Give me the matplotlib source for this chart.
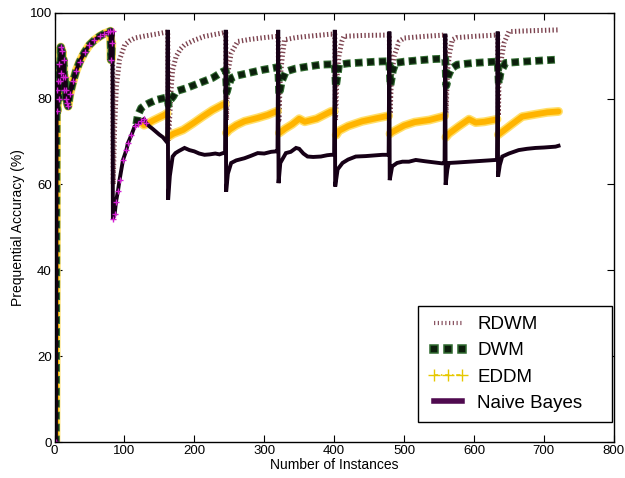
import numpy as np
import matplotlib
matplotlib.use("Agg")
import matplotlib.pyplot as plt
from matplotlib.lines import Line2D

plt.rcParams["font.family"] = ["Liberation Sans", "DejaVu Sans"]
plt.rcParams["lines.scale_dashes"] = False

nan = np.nan

# First concept (instances 0-82): all four learners coincide
warm_x = [0, 2, 3, 4, 5, 6, 7, 8, 9, 10, 11, 12, 13, 14, 15, 16, 17, 18, 19.5,
          22, 26.5, 31, 36, 43, 50, 57, 64.5, 71, 76.5, 80, 81, 82]
warm_y = [0, 0, 82, 77, 84, 80, 88, 84, 92, 86, 91, 85, 89, 82, 85, 80, 82, 79, 78.2,
          81, 84, 86.5, 88.6, 90.8, 92.5, 93.6, 94.5, 95.1, 95.4, 95.7, 89, 93]

# RDWM after the first drift
rdwm_x = [83, 84, 86, 88.5, 93, 100.4, 107, 115, 130, 145, 157.5, 161,
          162, 163, 167, 169, 174, 180, 186, 200, 215, 241, 244,
          245, 246, 248, 252.7, 262, 280, 300, 319,
          320, 321, 323, 326, 329, 345, 362, 395, 400,
          401, 402, 404, 407, 411, 414, 440, 478,
          479, 480, 482, 486, 493, 500, 530, 558,
          559, 560, 562, 565, 569, 575, 600, 633,
          634, 635, 636, 640, 643, 650, 680, 721]
rdwm_y = [95.7, 60, 73.5, 82.8, 89, 92.5, 93.4, 94.1, 94.6, 95.0, 95.4, 95.5,
          95.5, 70, 82.8, 86.7, 89.8, 91.5, 92.5, 93.6, 94.5, 95.3, 95.4,
          95.4, 75, 86, 90.6, 93.3, 93.8, 94.2, 94.5,
          94.5, 75, 85, 90, 93.7, 94.2, 94.5, 95.0, 95.0,
          95.0, 75, 85, 90, 93.3, 94.5, 94.7, 94.8,
          94.8, 76, 85, 90, 93.3, 94.1, 94.5, 94.8,
          94.8, 76, 86, 90.5, 93.7, 94.2, 94.5, 94.8,
          94.8, 76, 85.5, 90, 92.9, 95.6, 95.8, 96.0]

# DWM after the first drift
dwm_x = [83, 117, 119, 124, 130, 136, 146, 161,
         162, 163, 165, 170, 174, 188, 207, 226, 241, 244,
         245, 246.5, 249, 253, 260, 279, 298, 319,
         320, 321.5, 325, 331, 345, 360, 381, 400,
         401, 402.5, 405, 407, 420, 440, 460, 478,
         479, 480.5, 484, 488, 500, 520, 543, 558,
         559, 560.5, 563, 568, 576, 600, 631, 633,
         634, 635.5, 638, 645, 670, 700, 721]
dwm_y = [nan, 74, 76, 77.8, 78.5, 79, 79.7, 80.3,
         80.3, 78.5, 79.5, 80.5, 81.7, 82.4, 83.6, 84.8, 86.3, 86.5,
         86.5, 81.5, 83, 84.8, 85.3, 86, 86.7, 87.3,
         87.3, 80.9, 84, 86.3, 87.0, 87.4, 87.9, 88.0,
         88.0, 82.8, 85.5, 87.9, 88.2, 88.4, 88.6, 88.7,
         88.7, 83, 86.5, 88.3, 88.6, 88.9, 89.2, 89.3,
         89.3, 83, 85.2, 87, 87.9, 88.3, 88.6, 88.6,
         88.6, 83.5, 86, 88.3, 88.6, 88.9, 89.1]

# EDDM after the first drift
eddm_x = [83, 124, 128, 135, 140, 150, 157.5, 161,
          162, 164, 170, 184, 198, 212, 226, 241, 244,
          245, 246, 250, 260, 271.7, 290.7, 305, 317, 319,
          320, 321.7, 330, 340, 350, 358, 375, 395.5, 400,
          401, 403, 407, 420, 440, 460, 478,
          479, 480, 483, 500, 515, 536, 555, 558,
          559, 560, 564, 578, 593, 602.5, 615, 631, 633,
          634, 635, 640.5, 655, 669, 690, 705, 721]
eddm_y = [nan, 74.5, 73.8, 74.3, 74.8, 75.6, 76.2, 76.6,
          nan, 71.2, 71.8, 72.7, 74.2, 75.8, 77.3, 78.6, 78.8,
          nan, 72.0, 72.7, 73.8, 74.7, 75.5, 76.2, 77.0, 77.1,
          nan, 72.0, 73.0, 74.0, 75.3, 74.6, 75.3, 77.0, 77.1,
          nan, 71.5, 72.5, 73.6, 74.7, 75.4, 76.0,
          nan, 71.8, 72.2, 73.7, 74.5, 75.0, 75.8, 76.0,
          nan, 71.0, 71.8, 73.5, 75.2, 74.4, 74.6, 75.1, 75.2,
          nan, 71.6, 72.3, 74.1, 75.8, 76.4, 76.8, 77.0]

# Naive Bayes after the first drift
nb_x = [83, 83.5, 86, 88, 90.8, 93, 98, 102.8, 105, 110, 114.6, 119, 124, 128,
        131, 136, 140, 145, 150, 155, 160, 161,
        162, 162.5, 165, 169, 173, 178, 186, 193, 200, 207, 214.6, 222, 230, 236, 241, 244,
        245, 245.5, 248, 252.7, 260, 271.7, 280, 290.7, 300, 310, 317, 319,
        320, 320.5, 323, 331, 338, 345.5, 350, 356, 362, 370, 381, 390, 395.5, 400,
        401, 401.5, 405, 412, 420, 431, 445, 460, 469, 478,
        479, 479.5, 483, 490, 497.7, 507, 516.8, 530, 545, 554.8, 558,
        559, 559.5, 562, 564, 575, 593, 610, 631, 633,
        634, 634.5, 637, 640.5, 650, 664, 676, 688, 700, 716.7, 721]
nb_y = [95.7, 52, 53, 56, 58.5, 61, 65.7, 68, 69.6, 71.5, 73.5, 74, 74.8, 75.2,
        74.3, 73.5, 73, 72.3, 71.6, 71.0, 70.0, 69.8,
        96, 56.4, 62, 66.5, 67.3, 67.8, 68.5, 68.0, 67.7, 67.2, 66.9, 67.0, 67.2, 67.0, 67.3, 67.3,
        96, 58.3, 62.5, 65, 65.6, 66.1, 66.6, 67.3, 67.2, 67.6, 67.7, 67.8,
        96, 60.3, 65, 67.3, 67.6, 68.5, 68.3, 67.2, 66.5, 66.4, 66.5, 66.8, 66.9, 66.9,
        96, 59.5, 63.5, 65, 65.8, 66.5, 66.6, 66.8, 66.9, 66.9,
        95.6, 61, 64.2, 65, 65.3, 65.3, 65.7, 65.4, 65.1, 64.9, 65,
        95.1, 59.9, 63.5, 65, 65.1, 65.3, 65.5, 65.7, 65.7,
        95.6, 61.8, 64.5, 66.5, 67.2, 68, 68.3, 68.5, 68.6, 68.8, 69]

x_ticks = [0, 100, 200, 300, 400, 500, 600, 700, 800]
y_ticks = [0, 20, 40, 60, 80, 100]

fig = plt.figure(figsize=(6.25, 4.78), dpi=100)
ax = fig.add_axes([0.0872, 0.0753, 0.8948, 0.8981])

def full(xs, ys):
    return np.array(warm_x + xs, float), np.array(warm_y + ys, float)

# RDWM: fine dotted rose line
rx, ry = full(rdwm_x, rdwm_y)
ax.plot(rx, ry, color="#7d4450", lw=3.6, ls=(0, (1.0, 1.7)), dash_capstyle="butt")

# EDDM: thick amber band
ex, ey = full(eddm_x, eddm_y)
ax.plot(ex, ey, color="#ffdf6a", lw=6.4, solid_capstyle="round")
ax.plot(ex, ey, color="#ffb400", lw=4.2, solid_capstyle="round")

# DWM: big square dashes, green rim with dark core
dx, dy = full(dwm_x, dwm_y)
ax.plot(dx, dy, color="#2f6a2f", lw=5.6, ls=(0, (5.6, 3.0)), dash_capstyle="butt")
ax.plot(dx, dy, color="#0c1f0c", lw=4.0, ls=(8.0, (4.4, 4.2)), dash_capstyle="butt")

# Naive Bayes: heavy dark line
nx, ny = full(nb_x, nb_y)
ax.plot(nx, ny, color="#160016", lw=2.8, solid_joinstyle="miter")
k = len(warm_x) + 15
ax.plot(nx[:k], ny[:k], ls="none", marker="+", ms=4, mew=1.0, color="#d21fd2")

ax.set_xlim(0, 800)
ax.set_ylim(0, 100)
ax.set_xticks(x_ticks)
ax.set_yticks(y_ticks)
ax.tick_params(direction="in", top=True, right=True, length=5, labelsize=9.5, pad=2)
for s in ax.spines.values():
    s.set_linewidth(1.0)
ax.set_xlabel("Number of Instances", fontsize=10, labelpad=1)
ax.set_ylabel("Prequential Accuracy (%)", fontsize=10, labelpad=3)

h_rd = Line2D([], [], color="#8a5563", lw=3.0, ls=(0, (0.9, 1.8)), dash_capstyle="butt")
h_dw = Line2D([], [], ls="none", marker="s", ms=6.0, mfc="#0c1f0c", mec="#2f6a2f", mew=1.1)
h_ed = Line2D([], [], color="#e6c800", lw=1.2, ls=(0, (3, 2, 1, 2)), marker="+", ms=8, mew=1.0)
h_nb = Line2D([], [], color="#4f0a4f", lw=4.0)

leg = ax.legend([h_rd, h_dw, h_ed, h_nb], ["RDWM", "DWM", "EDDM", "Naive Bayes"],
                loc="lower left", bbox_to_anchor=(0.650, 0.0466, 0.347, 0.273),
                mode="expand", fontsize=13.5, fancybox=False, framealpha=1,
                edgecolor="black", handlelength=2.1, handletextpad=0.5,
                labelspacing=0.48, borderpad=0.55, borderaxespad=0, numpoints=3)
leg.get_frame().set_linewidth(1.0)

fig.savefig("out.png", dpi=100)
